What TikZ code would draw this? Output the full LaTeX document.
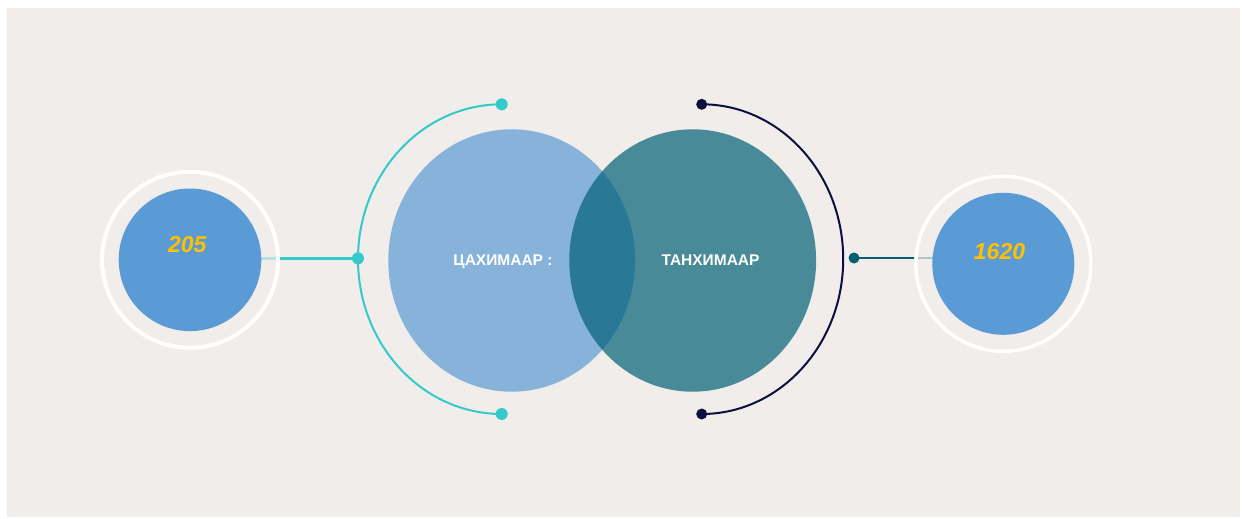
\documentclass[tikz,border=0pt]{standalone}
\usepackage{fontspec}
\setmainfont{Liberation Sans}
\usetikzlibrary{shapes.geometric}
\definecolor{panelbg}{RGB}{241,237,234}
\definecolor{nblue}{RGB}{91,155,213}
\definecolor{gold}{RGB}{255,192,0}
\definecolor{tealc}{RGB}{52,202,202}
\definecolor{navyc}{RGB}{12,16,64}
\definecolor{darkteal}{RGB}{6,94,115}
\definecolor{rteal}{RGB}{2,96,120}
\definecolor{lighttealL}{RGB}{184,226,226}
\definecolor{lighttealR}{RGB}{172,200,205}
\begin{document}
\begin{tikzpicture}[x=1pt,y=-1pt,
  ring/.style={circle,draw=white,line width=4pt,inner sep=0pt,minimum size=176pt},
  smallc/.style={circle,fill=nblue,inner sep=0pt,minimum size=142.6pt},
  bigc/.style={ellipse,inner sep=0pt,minimum width=246.8pt,minimum height=262.4pt},
  dotnode/.style={circle,inner sep=0pt,minimum size=12pt},
  lbl/.style={text=white,font=\fontsize{15.5}{18}\selectfont\bfseries,anchor=base,inner sep=0pt},
  num/.style={text=gold,font=\fontsize{23}{26}\selectfont\bfseries\itshape,anchor=base,inner sep=0pt},
  arcline/.style={line width=2pt},
  hline/.style={line width=2.5pt}]
\useasboundingbox (0,0) rectangle (1242,519);
\fill[white] (0,0) rectangle (1242,519);
\fill[panelbg] (7,8) rectangle (1240,517);

% dots
\node[dotnode,fill=tealc] (dLT) at (501.7,104.3) {};
\node[dotnode,fill=tealc] (dLB) at (501.7,414) {};
\node[dotnode,fill=tealc] (dLM) at (358,258.3) {};
\node[dotnode,fill=navyc,minimum size=11pt] (dRT) at (701.7,104.3) {};
\node[dotnode,fill=navyc,minimum size=11pt] (dRB) at (701.7,414) {};
\node[dotnode,fill=darkteal,minimum size=11pt] (dRM) at (854,258) {};

% arcs
\draw[tealc,arcline] (dLT.center) arc[start angle=270,end angle=90,x radius=143.7,y radius=154.85];
\draw[navyc,arcline] (dRT.center) arc[start angle=270,end angle=450,x radius=141.5,y radius=154.85];

% helper coordinates for small circle centres
\coordinate (cL) at (190,259.8);
\coordinate (cR) at (1003.3,263.8);

% light segments (under rings)
\draw[lighttealL,hline] (cL |- dLM) -- ++(90,0);
\draw[lighttealR,hline] (cR |- dRM) -- ++(-90,0);

% rings and small circles
\node[ring] (rL) at (cL) {};
\node[ring,line width=3.5pt,minimum size=175pt] (rR) at (cR) {};
\node[smallc] (sL) at (cL) {};
\node[smallc,minimum size=142pt] (sR) at (cR) {};

% connectors
\draw[tealc,hline] (dLM.center) -- (dLM -| rL.east);
\draw[darkteal,hline] (dRM.center) -- (dRM -| rR.west);

% big circles
\node[bigc,fill=nblue,fill opacity=0.7] (bL) at (511.7,260.5) {};
\node[bigc,fill=rteal,fill opacity=0.7] (bR) at (692.7,260.5) {};

% texts
\node[lbl] (tL) at (503,265) {ЦАХИМААР :};
\node[lbl] (tR) at (710.5,265) {ТАНХИМААР};
\node[num] (t205) at (187.3,252.7) {205};
\node[num] (t1620) at (999.5,259.3) {1620};
\end{tikzpicture}
\end{document}
